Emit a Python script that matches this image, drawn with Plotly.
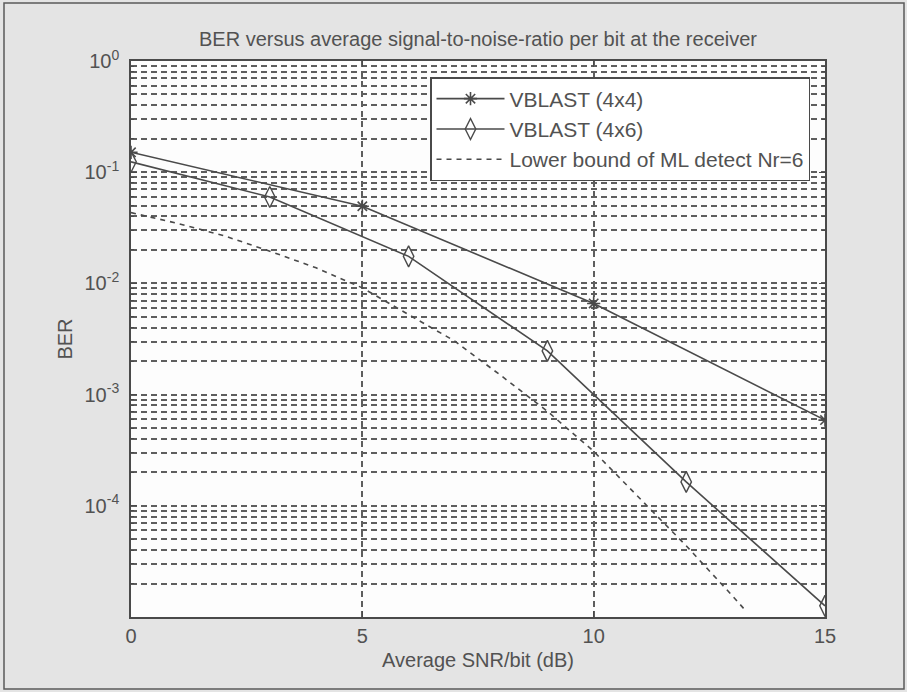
import plotly.graph_objects as go

# BER curves (SNR per bit in dB)
snr_4x4 = [0, 5, 10, 15]
ber_4x4 = [0.151, 0.0494, 0.0066, 5.9e-4]

snr_4x6 = [0, 3, 6, 9, 12, 15]
ber_4x6 = [0.124, 0.0598, 0.0175, 2.47e-3, 1.64e-4, 1.26e-5]

snr_lb = [0, 1, 2, 3, 4, 5, 6, 7, 8, 9, 10, 11, 12, 13, 13.3]
ber_lb = [0.0433, 0.0347, 0.0269, 0.0195, 0.0138, 0.00912, 0.00525, 0.00302,
          0.00148, 7.08e-4, 3.09e-4, 1.17e-4, 4.37e-5, 1.55e-5, 1.12e-5]

series_names = ["VBLAST (4x4)", "VBLAST (4x6)", "Lower bound of ML detect Nr=6"]

x_tick_vals = [0, 5, 10, 15]
x_tick_text = ["0", "5", "10", "15"]
y_tick_vals = [1, 0.1, 0.01, 1e-3, 1e-4]
y_tick_text = ["10<sup>0</sup>", "10<sup>-1</sup>", "10<sup>-2</sup>",
               "10<sup>-3</sup>", "10<sup>-4</sup>"]

title_text = "BER versus average signal-to-noise-ratio per bit at the receiver"
x_title = "Average SNR/bit (dB)"
y_title = "BER"

# figure geometry (pixels)
W, H = 907, 692
L, R, T, B = 131, 82, 61, 75

ink = "#4a4a4a"
grid_col = "#5e5e5e"
txt_col = "#525252"
font_fam = "Liberation Sans, Arial, sans-serif"

# minor log grid positions 2..9 x 10^k
minor_vals = [m * 10.0 ** k for k in range(-5, 0) for m in range(2, 10)]

fig = go.Figure()
fig.add_trace(go.Scatter(
    x=snr_4x4, y=ber_4x4, name=series_names[0], mode="lines+markers",
    line=dict(color=ink, width=1.6),
    marker=dict(symbol="asterisk-open", size=11, color=ink,
                line=dict(color=ink, width=1.6)),
))
fig.add_trace(go.Scatter(
    x=snr_4x6, y=ber_4x6, name=series_names[1], mode="lines+markers",
    line=dict(color=ink, width=1.6),
    marker=dict(symbol="diamond-tall-open", size=15, color=ink,
                line=dict(color=ink, width=1.4)),
))
fig.add_trace(go.Scatter(
    x=snr_lb, y=ber_lb, name=series_names[2], mode="lines",
    line=dict(color=ink, width=1.6, dash="5px,5px"),
))

# outer frame around the whole figure
px0, px1, py0, py1 = 4, 904, 3, 689
pw, ph = W - L - R, H - T - B
fig.add_shape(type="rect", xref="paper", yref="paper",
              x0=(px0 - L) / pw, x1=(px1 - L) / pw,
              y0=(H - B - py1) / ph, y1=(H - B - py0) / ph,
              line=dict(color="#5a5a5a", width=1.5), layer="below")

axis_common = dict(
    showline=True, linecolor=ink, linewidth=1.6, mirror="ticks",
    ticks="inside", ticklen=6, tickcolor=ink, tickwidth=1.3,
    showgrid=True, gridcolor=grid_col, gridwidth=1.6, griddash="6px,4px",
    zeroline=False,
    tickfont=dict(family=font_fam, size=20, color=txt_col),
)

fig.update_xaxes(
    range=[0, 15], tickmode="array", tickvals=x_tick_vals, ticktext=x_tick_text,
    title=dict(text=x_title, font=dict(family=font_fam, size=20, color=txt_col),
               standoff=7),
    **axis_common,
)
fig.update_yaxes(
    type="log", range=[-5, 0], tickmode="array", tickvals=y_tick_vals,
    ticktext=y_tick_text, ticklabelstandoff=6,
    title=dict(text=y_title, font=dict(family=font_fam, size=20, color=txt_col),
               standoff=6),
    minor=dict(tickmode="array", tickvals=minor_vals, ticks="inside", ticklen=3,
               tickcolor=ink, showgrid=True, gridcolor=grid_col, gridwidth=1.6,
               griddash="6px,4px"),
    **axis_common,
)

fig.update_layout(
    width=W, height=H,
    margin=dict(l=L, r=R, t=T, b=B, pad=0),
    paper_bgcolor="#e4e4e4",
    plot_bgcolor="#fdfdfd",
    title=dict(text=title_text, x=(L + pw / 2) / W, xanchor="center",
               y=1 - 39 / H, yanchor="middle",
               font=dict(family=font_fam, size=20, color=txt_col)),
    legend=dict(x=(430 - L) / pw, y=(H - B - 77) / ph, xanchor="left", yanchor="top",
                bgcolor="#ffffff", bordercolor=ink, borderwidth=1.5,
                font=dict(family=font_fam, size=21, color=txt_col),
                itemwidth=68, tracegroupgap=0),
    showlegend=True,
)

fig.write_html("out.html")
